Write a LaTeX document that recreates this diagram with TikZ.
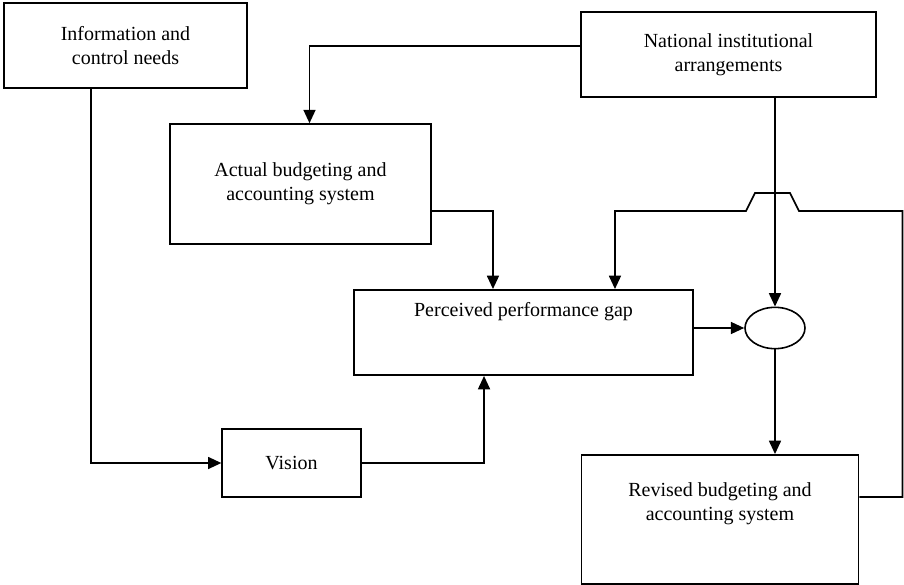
\documentclass[tikz,border=0pt]{standalone}
\usepackage{fontspec}
\setmainfont{Liberation Serif}
\usepackage{tikz}
\usetikzlibrary{shapes, arrows.meta, positioning, calc}

\tikzset{
  box/.style={draw, line width=1.2pt, align=center, font=\fontsize{15}{18}\selectfont},
  knotshape/.style={draw, ellipse, line width=1.2pt, minimum width=45pt, minimum height=31pt, inner sep=0pt},
  arr/.style={line width=1.2pt, -{Triangle[length=10pt,width=9pt]}},
}

\begin{document}
\begin{tikzpicture}[x=0.75pt, y=-0.75pt]
  \useasboundingbox (0,0) rectangle (904,585);

  % boxes
  \node[box, minimum width=182pt, minimum height=64pt] (info) at (125.5,45.5) {Information and\\control needs};
  \node[box, minimum width=221pt, minimum height=64pt] (national) at (728.5,54.5) {National institutional\\arrangements};
  \node[box, minimum width=196pt, minimum height=90pt] (actual) at (300.5,184) {Actual budgeting and\\accounting system};
  \node[box, minimum width=254pt, minimum height=64pt,
        label={[anchor=center, yshift=-17pt, font=\fontsize{15}{18}\selectfont]north:Perceived performance gap}] (gap) at (523.5,332.5) {};
  \node[box, minimum width=104pt, minimum height=51pt] (vision) at (291.5,463) {Vision};
  \node[box, minimum width=208pt, minimum height=97pt,
        label={[anchor=center, align=center, yshift=-37.5pt, font=\fontsize{15}{18}\selectfont]north:Revised budgeting and\\accounting system}] (revised) at (720,519.5) {};
  \node[knotshape] (knot) at (775,328) {};

  % connectors
  \draw[arr] ([xshift=-25.9pt]info.south) |- (vision.west);
  \draw[arr] ([yshift=6.4pt]national.west) -| ([xshift=6.75pt]actual.north);
  \draw[arr] ([yshift=-20.25pt]actual.east) -| ([xshift=-22.9pt]gap.north);
  \draw[arr] (vision.east) -| ([xshift=-29.6pt]gap.south);
  \draw[arr] (gap.east |- knot) -- (knot.west);
  \draw[arr] (national.south -| knot) -- (knot.north);
  \draw[arr] (knot.south) -- (revised.north -| knot);
  \draw[arr] ([yshift=16.9pt]revised.east) -- ++(32.25pt,0) |- (799,211)
    -- (790,193) -- (755,193) -- (746,211) -| ([xshift=68.6pt]gap.north);
\end{tikzpicture}
\end{document}
